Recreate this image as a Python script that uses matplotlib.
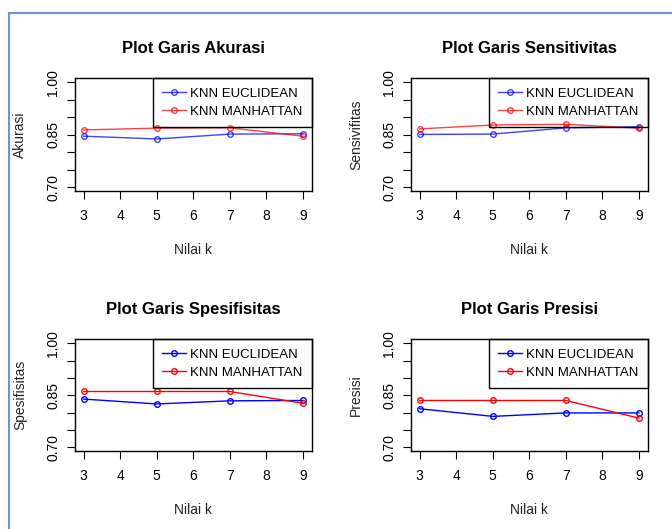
import matplotlib
matplotlib.use('Agg')
import matplotlib.pyplot as plt
from matplotlib.lines import Line2D

plt.rcParams['font.family'] = ['Liberation Sans', 'DejaVu Sans']

k = [3, 5, 7, 9]

akurasi_euc = [0.846, 0.838, 0.852, 0.853]
akurasi_man = [0.864, 0.869, 0.870, 0.846]
sens_euc = [0.851, 0.852, 0.870, 0.873]
sens_man = [0.867, 0.878, 0.880, 0.869]
spes_euc = [0.839, 0.825, 0.834, 0.835]
spes_man = [0.861, 0.861, 0.861, 0.827]
pres_euc = [0.811, 0.789, 0.799, 0.799]
pres_man = [0.835, 0.835, 0.835, 0.784]

titles = ['Plot Garis Akurasi', 'Plot Garis Sensitivitas',
          'Plot Garis Spesifisitas', 'Plot Garis Presisi']
ylabels = ['Akurasi', 'Sensivifitas', 'Spesifisitas', 'Presisi']
euc = [akurasi_euc, sens_euc, spes_euc, pres_euc]
man = [akurasi_man, sens_man, spes_man, pres_man]

yticks = [0.70, 0.75, 0.80, 0.85, 0.90, 0.95, 1.00]
ytick_labels = ['0.70', '', '', '0.85', '', '', '1.00']

fig = plt.figure(figsize=(6.72, 5.29), dpi=100)

# axes positions in figure fractions (left, bottom, width, height)
positions = [
    [0.1116, 0.6384, 0.3522, 0.2136],
    [0.6116, 0.6384, 0.3522, 0.2136],
    [0.1116, 0.1469, 0.3522, 0.2117],
    [0.6116, 0.1469, 0.3522, 0.2117],
]

for i in range(4):
    ax = fig.add_axes(positions[i])
    alpha = 0.75 if i < 2 else 1.0
    ax.plot(k, euc[i], color='blue', marker='o', fillstyle='none', markersize=4,
            linewidth=1, markeredgewidth=1, alpha=alpha, label='KNN EUCLIDEAN')
    ax.plot(k, man[i], color='red', marker='o', fillstyle='none', markersize=4,
            linewidth=1, markeredgewidth=1, alpha=alpha, label='KNN MANHATTAN')
    ax.set_xlim(2.76, 9.24)
    ax.set_ylim(0.688, 1.012)
    ax.set_xticks(range(3, 10))
    ax.set_yticks(yticks)
    ax.set_yticklabels(ytick_labels, rotation=90, va='center')
    ax.tick_params(direction='out', length=6, width=0.8, labelsize=10, color='black')
    ax.tick_params(axis='x', pad=7)
    ax.tick_params(axis='y', pad=4.5)
    for s in ax.spines.values():
        s.set_linewidth(1)
        s.set_color('black')
    ax.set_title(titles[i], fontsize=12, fontweight='bold', pad=18)
    ax.set_xlabel('Nilai k', fontsize=10, labelpad=14, color='#222222')
    ax.set_ylabel(ylabels[i], fontsize=10, color='#222222', va='center')
    ax.yaxis.set_label_coords(-0.232, 0.5)
    leg = ax.legend(loc='upper right', borderaxespad=0, fancybox=False,
                    edgecolor='black', fontsize=9.5,
                    handlelength=1.8, handletextpad=0.3, borderpad=0.7,
                    labelspacing=0.45)
    leg.get_frame().set_linewidth(1)
    leg.get_frame().set_facecolor('none')
    leg.get_frame().set_alpha(None)
    for h in leg.get_lines():
        h.set_alpha(alpha)

# blue screenshot frame on the left and top
frame_color = '#6a95d0'
fig.add_artist(Line2D([8.5 / 672, 8.5 / 672], [0, 1 - 12.5 / 529],
                      transform=fig.transFigure, color=frame_color, linewidth=1.5))
fig.add_artist(Line2D([8.5 / 672, 1], [1 - 12.5 / 529, 1 - 12.5 / 529],
                      transform=fig.transFigure, color=frame_color, linewidth=1.5))

fig.savefig('out.png', dpi=100)
